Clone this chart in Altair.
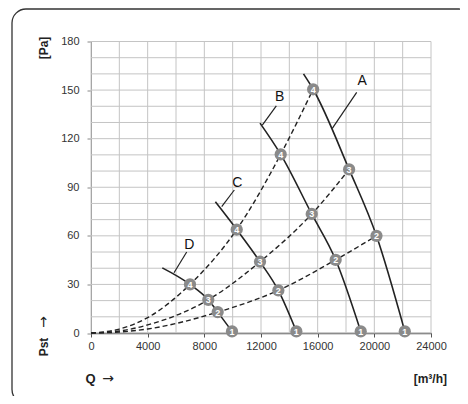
import altair as alt
import pandas as pd

FONT = "Liberation Sans"

# ---- fan curves (solid), from upper end down to point 1 ----
fan_names = ["A", "B", "C", "D"]
A_q = [15000, 15680, 18220, 20150, 22150]
A_p = [160, 150.5, 101, 60, 1]
B_q = [11930, 13390, 15580, 17270, 19040]
B_p = [129.6, 110.3, 73.5, 45.2, 1]
C_q = [8780, 10285, 11930, 13224, 14495]
C_p = [81, 63.9, 44, 26.3, 1]
D_q = [5033, 6988, 8280, 8944, 9953]
D_p = [40.2, 30, 20.5, 12.9, 1]
point_numbers = ["", "4", "3", "2", "1"]

# ---- system curves (dashed), from origin ----
S4_q = [0, 2000, 4000, 6988, 10285, 13390, 15680]
S4_p = [0, 2.4, 9.5, 30, 63.9, 110.3, 150.5]
S3_q = [0, 2000, 4000, 8280, 11930, 15580, 18220]
S3_p = [0, 1.2, 5, 20.5, 44, 73.5, 101]
S2_q = [0, 2000, 4000, 8944, 13224, 17270, 20150]
S2_p = [0, 0.6, 2.5, 12.9, 26.3, 45.2, 60]

# ---- curve labels and leader lines ----
label_text = ["A", "B", "C", "D"]
label_q = [19150, 13320, 10327, 6939]
label_p = [155.8, 145.5, 92.8, 54.2]
leader_q1 = [18755, 13081, 10116, 6755]
leader_p1 = [148.6, 140.2, 88.3, 50]
leader_q2 = [17033, 12092, 9226, 5859]
leader_p2 = [126.4, 128.4, 78, 37.2]

# ---- axes ----
x_ticks = [0, 4000, 8000, 12000, 16000, 20000, 24000]
y_ticks = [0, 30, 60, 90, 120, 150, 180]
x_grid = list(range(0, 24001, 2000))
y_grid = list(range(0, 181, 10))

W, H = 340, 291.5

fan_rows, mark_rows = [], []
for name, qs, ps in [("A", A_q, A_p), ("B", B_q, B_p), ("C", C_q, C_p), ("D", D_q, D_p)]:
    for q, p, n in zip(qs, ps, point_numbers):
        fan_rows.append({"curve": name, "q": q, "p": p})
        if n:
            mark_rows.append({"curve": name, "q": q, "p": p, "n": n})
fan_df = pd.DataFrame(fan_rows)
mark_df = pd.DataFrame(mark_rows)

sys_rows = []
for name, qs, ps in [("4", S4_q, S4_p), ("3", S3_q, S3_p), ("2", S2_q, S2_p)]:
    for q, p in zip(qs, ps):
        sys_rows.append({"curve": name, "q": q, "p": p})
sys_df = pd.DataFrame(sys_rows)

lead_rows = []
for t, q1, p1, q2, p2 in zip(label_text, leader_q1, leader_p1, leader_q2, leader_p2):
    lead_rows.append({"curve": t, "q": q1, "p": p1})
    lead_rows.append({"curve": t, "q": q2, "p": p2})
lead_df = pd.DataFrame(lead_rows)
lab_df = pd.DataFrame({"q": label_q, "p": label_p, "t": label_text})

x_enc = alt.X("q:Q", scale=alt.Scale(domain=[0, 24000], nice=False, zero=False),
              axis=alt.Axis(values=x_ticks, title=None, grid=False, format="d",
                            labelFont=FONT, labelFontSize=11, labelColor="#333",
                            tickSize=4, tickColor="#555", domainColor="#555",
                            domainWidth=1.5, labelPadding=3, labelOverlap=False,
                            labelFlush=False))
y_enc = alt.Y("p:Q", scale=alt.Scale(domain=[0, 180], nice=False, zero=False),
              axis=alt.Axis(values=y_ticks, title=None, grid=False,
                            labelFont=FONT, labelFontSize=11, labelColor="#333",
                            tickSize=4, tickColor="#888", domainColor="#888",
                            labelPadding=8, labelOverlap=False))

one = pd.DataFrame({"a": [0]})

vgrid = alt.Chart(pd.DataFrame({"q": x_grid})).mark_rule(color="#c4c4c4", strokeWidth=1).encode(x=x_enc)
hgrid = alt.Chart(pd.DataFrame({"p": y_grid})).mark_rule(color="#c4c4c4", strokeWidth=1).encode(y=y_enc)

sys_lines = alt.Chart(sys_df).mark_line(color="#222", strokeWidth=1.4, strokeDash=[5, 3],
                                        interpolate="monotone").encode(
    x=x_enc, y=y_enc, detail="curve:N")
fan_lines = alt.Chart(fan_df).mark_line(color="#222", strokeWidth=1.6,
                                        interpolate="monotone").encode(
    x=x_enc, y=y_enc, detail="curve:N")
leaders = alt.Chart(lead_df).mark_line(color="#222", strokeWidth=1.2).encode(
    x=x_enc, y=y_enc, detail="curve:N")
labels = alt.Chart(lab_df).mark_text(font=FONT, fontSize=14, color="#111").encode(
    x=x_enc, y=y_enc, text="t:N")
markers = alt.Chart(mark_df).mark_point(filled=True, shape="circle", size=150,
                                        color="#8a8a8a", opacity=1).encode(x=x_enc, y=y_enc)
marker_txt = alt.Chart(mark_df).mark_text(font=FONT, fontSize=9, fontWeight="bold",
                                          color="white", dy=0.5).encode(x=x_enc, y=y_enc, text="n:N")

frame = alt.Chart(one).mark_rect(fill="transparent", stroke="#333", strokeWidth=1.3,
                                 cornerRadius=14).encode(
    x=alt.value(-79), x2=alt.value(382), y=alt.value(-32.5), y2=alt.value(362))

t_pa = alt.Chart(one).mark_text(text="[Pa]", font=FONT, fontSize=12, fontWeight="bold",
                                angle=270, color="#222").encode(x=alt.value(-47.5), y=alt.value(6.5))
t_pst = alt.Chart(one).mark_text(text="Pst", font=FONT, fontSize=12, fontWeight="bold",
                                 angle=270, color="#222").encode(x=alt.value(-47.5), y=alt.value(305.5))
t_pst_arrow = alt.Chart(one).mark_text(text="\u2192", font="DejaVu Sans", fontSize=14,
                                       angle=270, color="#222").encode(x=alt.value(-47.5), y=alt.value(280.5))
t_q = alt.Chart(one).mark_text(text="Q", font=FONT, fontSize=13, fontWeight="bold",
                               color="#222").encode(x=alt.value(-0.5), y=alt.value(337))
t_q_arrow = alt.Chart(one).mark_text(text="\u2192", font="DejaVu Sans", fontSize=14,
                                     color="#222").encode(x=alt.value(17), y=alt.value(337))
t_unit = alt.Chart(one).mark_text(text="[m\u00b3/h]", font=FONT, fontSize=12, fontWeight="bold",
                                  align="right", color="#222").encode(x=alt.value(356), y=alt.value(337))

chart = alt.layer(vgrid, hgrid, sys_lines, fan_lines, leaders, labels, markers, marker_txt,
                  frame, t_pa, t_pst, t_pst_arrow, t_q, t_q_arrow, t_unit).properties(
    width=W, height=H,
    autosize=alt.AutoSizeParams(type="none"),
    padding={"left": 83, "top": 33.5, "right": 29, "bottom": 63},
).configure_view(strokeWidth=0)

chart.save("out.html", embed_options={"renderer": "svg", "actions": False})
